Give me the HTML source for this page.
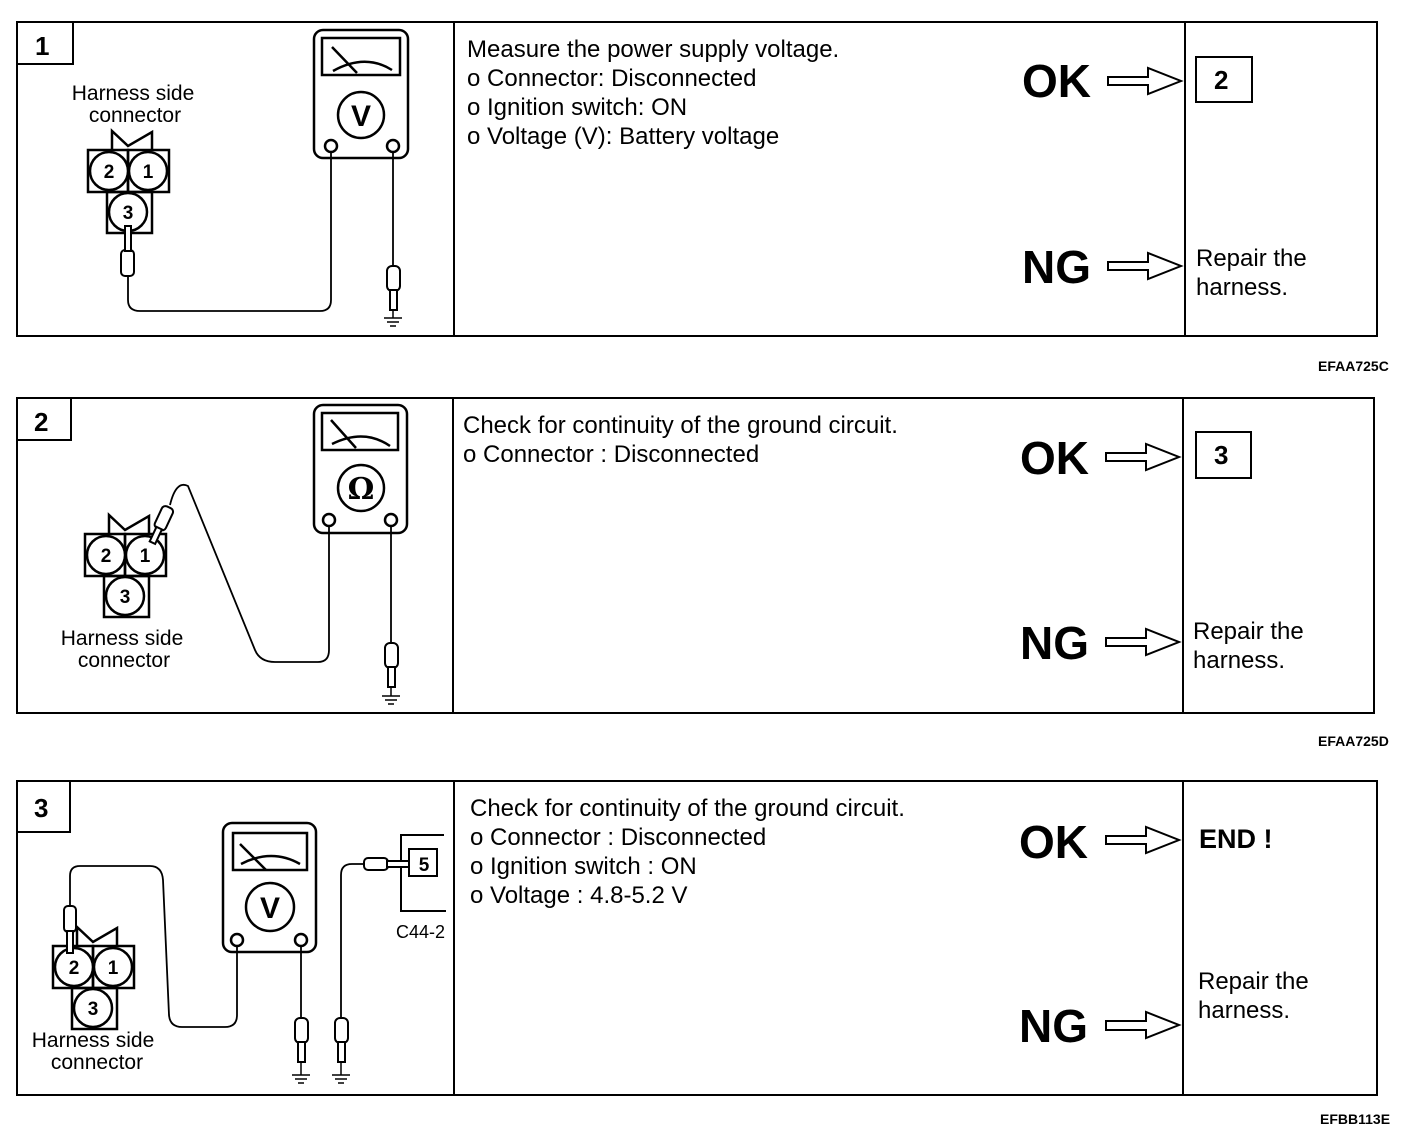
<!DOCTYPE html>
<html><head><style>
html,body{margin:0;padding:0;background:#fff;}
svg{display:block;}
text{font-family:"Liberation Sans",Arial,sans-serif;fill:#000;}
.t{font-size:24px;}
.big{font-size:46px;font-weight:bold;}
.num{font-size:26px;font-weight:bold;}
.lab{font-size:14px;font-weight:bold;}
</style></head><body>
<svg width="1408" height="1142" viewBox="0 0 1408 1142" xmlns="http://www.w3.org/2000/svg">
<g fill="none" stroke="#000" stroke-width="2">
<rect x="17" y="22" width="1360" height="314"/>
<line x1="454" y1="22" x2="454" y2="336"/><line x1="1185" y1="22" x2="1185" y2="336"/>
<polyline points="17,64 73,64 73,22"/>
<rect x="17" y="398" width="1357" height="315"/>
<line x1="453" y1="398" x2="453" y2="713"/><line x1="1183" y1="398" x2="1183" y2="713"/>
<polyline points="17,440 71,440 71,398"/>
<rect x="17" y="781" width="1360" height="314"/>
<line x1="454" y1="781" x2="454" y2="1095"/><line x1="1183" y1="781" x2="1183" y2="1095"/>
<polyline points="17,832 70,832 70,781"/>
<rect x="1196" y="57" width="56" height="45"/>
<rect x="1196" y="432" width="55" height="46"/>
</g>

<g fill="#fff" stroke="#000" stroke-width="2">
<path d="M1108,77 H1148 V68 L1181,81 L1148,94 V85 H1108 Z"/>
<path d="M1108,262 H1148 V253 L1181,266 L1148,279 V270 H1108 Z"/>
<path d="M1106,453 H1146 V444 L1179,457 L1146,470 V461 H1106 Z"/>
<path d="M1106,638 H1146 V629 L1179,642 L1146,655 V646 H1106 Z"/>
<path d="M1106,836 H1146 V827 L1179,840 L1146,853 V844 H1106 Z"/>
<path d="M1106,1021 H1146 V1012 L1179,1025 L1146,1038 V1030 H1106 Z"/>
</g>

<g fill="none" stroke="#000" stroke-width="2.5">
<g>
<rect x="88" y="150" width="40" height="42"/><rect x="128" y="150" width="41" height="42"/>
<rect x="107" y="192" width="45" height="41"/>
<polyline points="112,150 112,131 128,146 152,132 152,150"/>
<circle cx="109" cy="171" r="19" fill="#fff"/><circle cx="148" cy="171" r="19" fill="#fff"/>
<circle cx="128" cy="212" r="19" fill="#fff"/>
</g>
<g transform="translate(-3,384)">
<rect x="88" y="150" width="40" height="42"/><rect x="128" y="150" width="41" height="42"/>
<rect x="107" y="192" width="45" height="41"/>
<polyline points="112,150 112,131 128,146 152,132 152,150"/>
<circle cx="109" cy="171" r="19" fill="#fff"/><circle cx="148" cy="171" r="19" fill="#fff"/>
<circle cx="128" cy="212" r="19" fill="#fff"/>
</g>
<g transform="translate(-35,796)">
<rect x="88" y="150" width="40" height="42"/><rect x="128" y="150" width="41" height="42"/>
<rect x="107" y="192" width="45" height="41"/>
<polyline points="112,150 112,131 128,146 152,132 152,150"/>
<circle cx="109" cy="171" r="19" fill="#fff"/><circle cx="148" cy="171" r="19" fill="#fff"/>
<circle cx="128" cy="212" r="19" fill="#fff"/>
</g>
</g>

<g fill="none" stroke="#000" stroke-width="2.5">
<rect x="314" y="30" width="94" height="128" rx="9"/>
<rect x="322" y="38" width="78" height="37"/>
<path d="M332,47 L357,73 M333,71 Q365,53 392,70"/>
<circle cx="361" cy="115" r="23"/>
<circle cx="331" cy="146" r="6"/><circle cx="393" cy="146" r="6"/>

<rect x="314" y="405" width="93" height="128" rx="9"/>
<rect x="322" y="413" width="76" height="37"/>
<path d="M331,420 L356,448 M332,444 Q364,428 390,446"/>
<circle cx="361" cy="488" r="23"/>
<circle cx="329" cy="520" r="6"/><circle cx="391" cy="520" r="6"/>

<rect x="223" y="823" width="93" height="129" rx="9"/>
<rect x="233" y="833" width="74" height="37"/>
<path d="M240,844 L266,870 M241,864 Q272,848 300,864"/>
<circle cx="270" cy="907" r="24"/>
<circle cx="237" cy="940" r="6"/><circle cx="301" cy="940" r="6"/>

<polyline points="444,835 401,835 401,911 446,911" stroke-width="2"/>
<rect x="409" y="849" width="28" height="27" stroke-width="2"/>
</g>

<g fill="none" stroke="#000" stroke-width="1.8">
<path d="M128,275 V300 Q128,311 140,311 H320 Q331,311 331,300 V152"/>
<line x1="393" y1="152" x2="393" y2="268"/>
<path d="M170,505 Q176,480 188,486 L255,650 Q260,662 275,662 H318 Q329,662 329,650 V526"/>
<line x1="391" y1="526" x2="391" y2="645"/>
<path d="M70,905 V876 Q70,866 80,866 H150 Q162,866 163,880 L169,1015 Q170,1027 182,1027 H225 Q237,1027 237,1015 V946"/>
<line x1="301" y1="946" x2="301" y2="1020"/>
<path d="M341,1020 V875 Q341,864 352,864 H364"/>
</g>

<g fill="#fff" stroke="#000" stroke-width="2">
<rect x="121" y="250" width="13" height="26" rx="4"/><rect x="125" y="226" width="6" height="25"/>
<rect x="387" y="266" width="13" height="25" rx="5"/><rect x="390" y="290" width="7" height="20"/>
<rect x="385" y="643" width="13" height="25" rx="5"/><rect x="388" y="667" width="7" height="20"/>
<g transform="rotate(25 163 520)"><rect x="157" y="506" width="12" height="24" rx="4"/><rect x="160" y="529" width="6" height="16"/></g>
<rect x="64" y="906" width="12" height="26" rx="4"/><rect x="67" y="931" width="6" height="22"/>
<rect x="295" y="1018" width="13" height="25" rx="5"/><rect x="298" y="1042" width="7" height="20"/>
<rect x="335" y="1018" width="13" height="25" rx="5"/><rect x="338" y="1042" width="7" height="20"/>
<rect x="364" y="858" width="24" height="12" rx="4"/><rect x="387" y="861" width="22" height="6"/>
</g>
<g stroke="#000" stroke-width="1.5">
<path d="M384,318 H402 M387,322 H399 M390,326 H396 M393,310 V318"/>
<path d="M382,696 H400 M385,700 H397 M388,704 H394 M391,687 V696"/>
<path d="M292,1075 H310 M295,1079 H307 M298,1083 H304 M301,1062 V1075"/>
<path d="M332,1075 H350 M335,1079 H347 M338,1083 H344 M341,1062 V1075"/>
</g>

<text class="num" x="35" y="55">1</text>
<text class="num" x="34" y="431">2</text>
<text class="num" x="34" y="817">3</text>
<g style="font-size:19px;font-weight:bold" text-anchor="middle">
<text x="109" y="178">2</text><text x="148" y="178">1</text><text x="128" y="219">3</text>
<text x="106" y="562">2</text><text x="145" y="562">1</text><text x="125" y="603">3</text>
<text x="74" y="974">2</text><text x="113" y="974">1</text><text x="93" y="1015">3</text>
<text x="424" y="871">5</text>
</g>
<g style="font-size:30px;font-weight:bold" text-anchor="middle">
<text x="361" y="126">V</text>
<text x="361" y="499" style="font-family:'DejaVu Serif',serif">Ω</text>
<text x="270" y="918">V</text>
</g>
<g text-anchor="middle" style="font-size:21px">
<text x="133" y="100">Harness side</text><text x="135" y="122">connector</text>
<text x="122" y="645">Harness side</text><text x="124" y="667">connector</text>
<text x="93" y="1047">Harness side</text><text x="97" y="1069">connector</text>
</g>
<text x="396" y="938" style="font-size:18px">C44-2</text>

<g class="t">
<text x="467" y="57">Measure the power supply voltage.</text>
<text x="467" y="86">o Connector: Disconnected</text>
<text x="467" y="115">o Ignition switch: ON</text>
<text x="467" y="144">o Voltage (V): Battery voltage</text>
<text x="463" y="433">Check for continuity of the ground circuit.</text>
<text x="463" y="462">o Connector : Disconnected</text>
<text x="470" y="816">Check for continuity of the ground circuit.</text>
<text x="470" y="845">o Connector : Disconnected</text>
<text x="470" y="874">o Ignition switch : ON</text>
<text x="470" y="903">o Voltage : 4.8-5.2 V</text>
<text x="1196" y="266">Repair the</text><text x="1196" y="295">harness.</text>
<text x="1193" y="639">Repair the</text><text x="1193" y="668">harness.</text>
<text x="1198" y="989">Repair the</text><text x="1198" y="1018">harness.</text>
</g>
<g class="big">
<text x="1022" y="97">OK</text><text x="1022" y="283">NG</text>
<text x="1020" y="474">OK</text><text x="1020" y="659">NG</text>
<text x="1019" y="858">OK</text><text x="1019" y="1042">NG</text>
</g>
<text class="num" x="1214" y="89">2</text>
<text class="num" x="1214" y="464">3</text>
<text x="1199" y="848" style="font-size:27px;font-weight:bold">END !</text>
<g class="lab">
<text x="1318" y="371">EFAA725C</text>
<text x="1318" y="746">EFAA725D</text>
<text x="1320" y="1124">EFBB113E</text>
</g>
</svg>
</body></html>
